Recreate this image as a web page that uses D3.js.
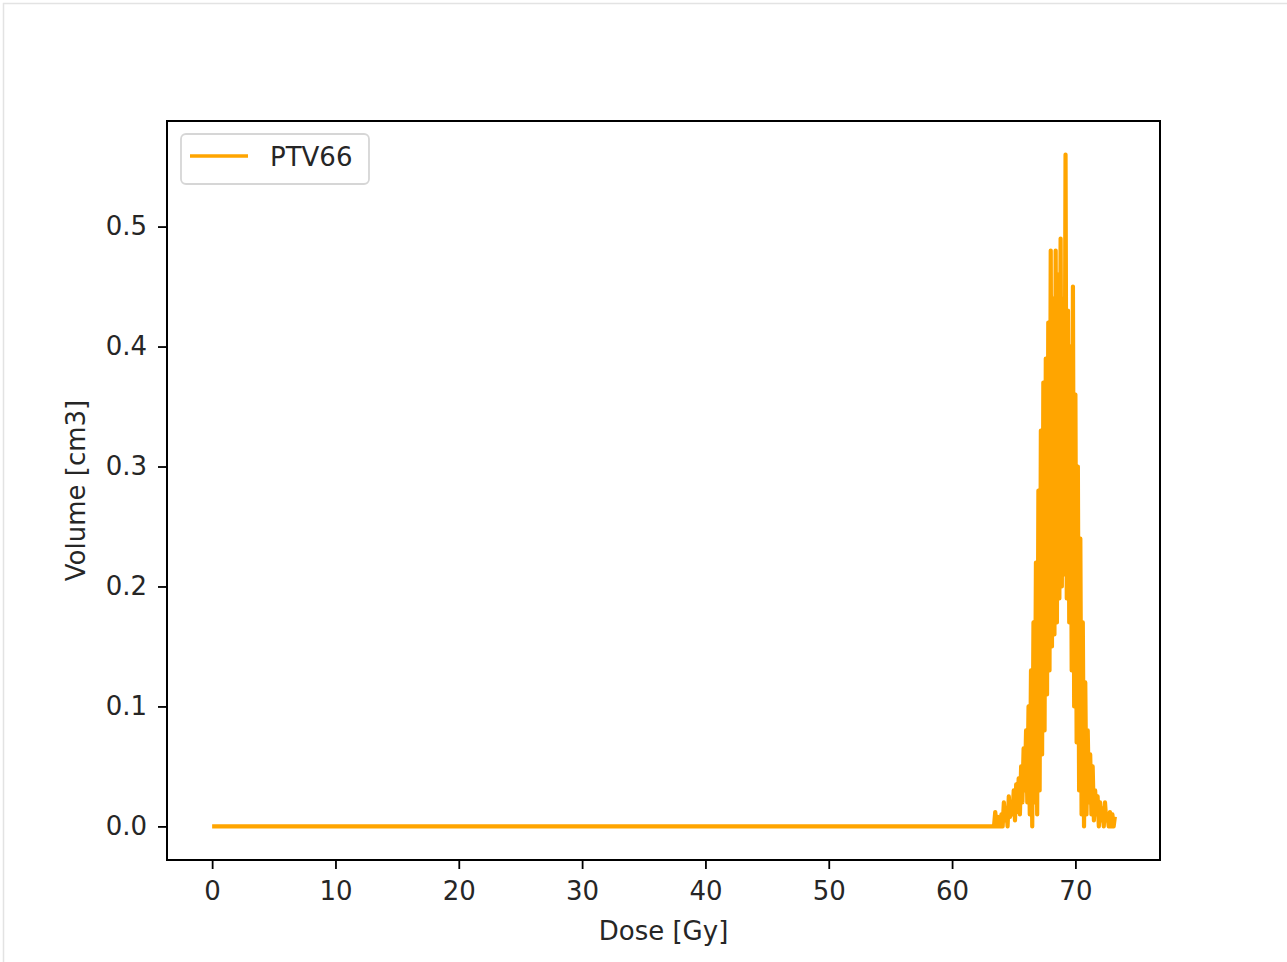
<!DOCTYPE html>
<html>
<head>
<meta charset="utf-8">
<script src="https://cdn.jsdelivr.net/npm/d3@7"></script>
<style>
  body { margin: 0; background: #fff; }
  text { font-family: "DejaVu Sans", sans-serif; fill: #262626; }
</style>
</head>
<body>
<div id="chart"></div>
<script>
// dose bins of the peak, 0.1 Gy apart, starting at 63.0 Gy
let peakStart = 63.0;
let peakStep = 0.1;
let peakVolume = [
    0, 0, 0, 0, 0, 0.012, 0, 0.008, 0, 0,
    0.01, 0, 0.02, 0.005, 0.015, 0, 0.025, 0.008, 0.02, 0.01,
    0.03, 0.005, 0.035, 0.012, 0.04, 0.01, 0.05, 0.02, 0.065, 0.03,
    0.08, 0.02, 0.1, 0.01, 0.13, 0.0, 0.17, 0.02, 0.22, 0.01,
    0.28, 0.03, 0.33, 0.06, 0.37, 0.08, 0.39, 0.11, 0.42, 0.13,
    0.48, 0.15, 0.44, 0.16, 0.48, 0.17, 0.46, 0.19, 0.49, 0.2,
    0.44, 0.21, 0.56, 0.19, 0.43, 0.17, 0.40, 0.13, 0.45, 0.1,
    0.36, 0.07, 0.30, 0.03, 0.24, 0.01, 0.17, 0.0, 0.12, 0.01,
    0.08, 0.02, 0.06, 0.01, 0.05, 0.005, 0.03, 0.01, 0.025, 0,
    0.02, 0.005, 0.015, 0, 0.02, 0.005, 0.01, 0, 0.012, 0,
    0.01, 0, 0.008
];
// flat part of the histogram before the peak
let flatDose = [0, 63.0];
let flatVolume = [0, 0];

let xTicks = [0, 10, 20, 30, 40, 50, 60, 70];
let yTicks = [0.0, 0.1, 0.2, 0.3, 0.4, 0.5];
let seriesName = "PTV66";

let points = flatDose.map((d, i) => ({dose: d, vol: flatVolume[i]}))
    .concat(peakVolume.map((v, i) => ({dose: peakStart + i * peakStep, vol: v})));

let W = 1287, H = 962;
let margin = {top: 121, right: 127, bottom: 102, left: 167};
let width = W - margin.left - margin.right;
let height = H - margin.top - margin.bottom;

let svg = d3.select("#chart").append("svg")
    .attr("width", W)
    .attr("height", H);

// notebook frame
svg.append("path")
    .attr("d", "M3.5," + H + "V3.5H" + W)
    .attr("fill", "none")
    .attr("stroke", "#e3e3e3")
    .attr("stroke-width", 1.5);

let g = svg.append("g")
    .attr("transform", "translate(" + margin.left + "," + margin.top + ")");

let xMax = d3.max(points, d => d.dose);
let yMax = d3.max(points, d => d.vol);
let x = d3.scaleLinear()
    .domain([-0.05 * xMax, 1.05 * xMax])
    .range([0, width]);
let y = d3.scaleLinear()
    .domain([-0.05 * yMax, 1.05 * yMax])
    .range([height, 0]);

let fontSize = 26;

let xAxis = g.append("g")
    .attr("transform", "translate(0," + height + ")")
    .call(d3.axisBottom(x).tickValues(xTicks).tickFormat(d3.format("d")).tickSize(9).tickPadding(13));
let yAxis = g.append("g")
    .call(d3.axisLeft(y).tickValues(yTicks).tickFormat(d3.format(".1f")).tickSize(9).tickPadding(11));

[xAxis, yAxis].forEach(a => {
    a.select(".domain").remove();
    a.selectAll("line").attr("stroke", "#000").attr("stroke-width", 1.8);
    a.selectAll("text")
        .attr("font-size", fontSize)
        .attr("font-family", "DejaVu Sans")
        .attr("fill", "#262626");
});

// the line
let line = d3.line()
    .x(d => x(d.dose))
    .y(d => y(d.vol));

g.append("path")
    .datum(points)
    .attr("fill", "none")
    .attr("stroke", "#ffa500")
    .attr("stroke-width", 4.2)
    .attr("stroke-linejoin", "round")
    .attr("d", line);

// frame of the axes
g.append("rect")
    .attr("width", width)
    .attr("height", height)
    .attr("fill", "none")
    .attr("stroke", "#000")
    .attr("stroke-width", 2);

// axis labels
g.append("text")
    .attr("x", width / 2)
    .attr("y", height + 80)
    .attr("text-anchor", "middle")
    .attr("font-size", fontSize)
    .text("Dose [Gy]");

g.append("text")
    .attr("transform", "translate(" + (-82) + "," + (height / 2) + ") rotate(-90)")
    .attr("text-anchor", "middle")
    .attr("font-size", fontSize)
    .text("Volume [cm3]");

// legend
let legend = g.append("g").attr("transform", "translate(14,13)");
legend.append("rect")
    .attr("width", 188)
    .attr("height", 50)
    .attr("rx", 5)
    .attr("fill", "#fff")
    .attr("fill-opacity", 0.8)
    .attr("stroke", "#d6d6d6")
    .attr("stroke-width", 1.8);
legend.append("line")
    .attr("x1", 9).attr("x2", 67)
    .attr("y1", 22).attr("y2", 22)
    .attr("stroke", "#ffa500")
    .attr("stroke-width", 3.5);
legend.append("text")
    .attr("x", 89)
    .attr("y", 32)
    .attr("font-size", fontSize)
    .text(seriesName);
</script>
</body>
</html>
